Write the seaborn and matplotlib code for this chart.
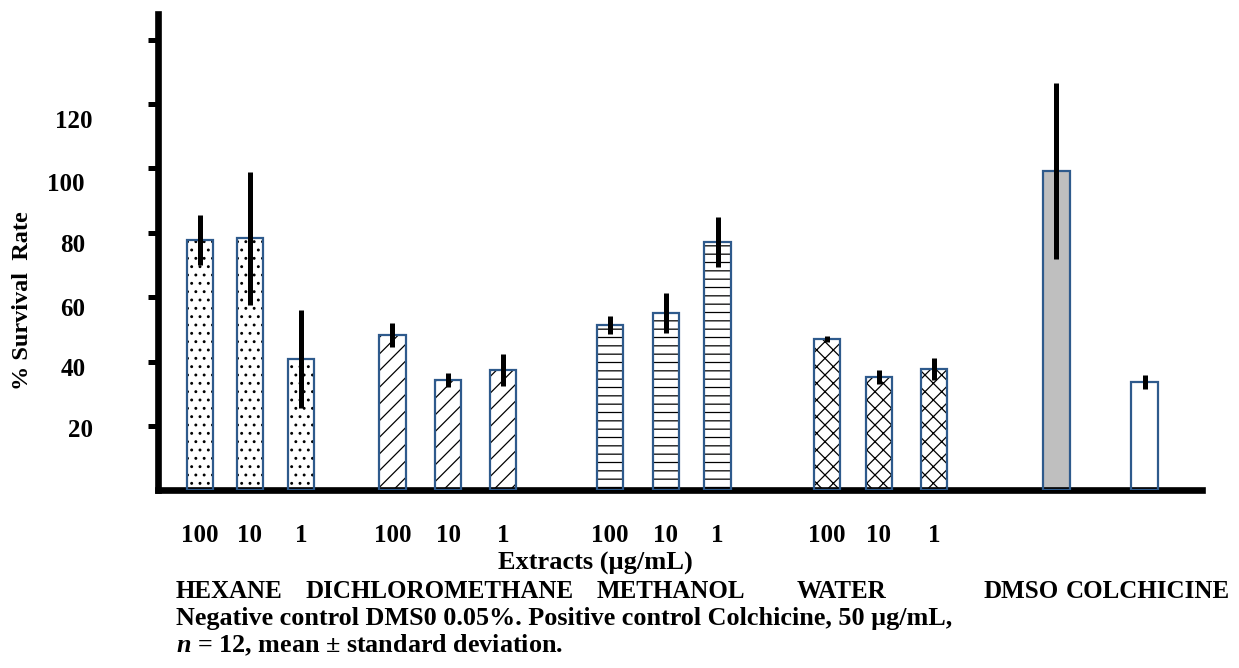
import matplotlib
matplotlib.use('Agg')
import numpy as np
import pandas as pd
import matplotlib.pyplot as plt
import seaborn as sns
from matplotlib.transforms import ScaledTranslation

# data
extracts = ['HEXANE', 'DICHLOROMETHANE', 'METHANOL', 'WATER']
concentrations = ['100', '10', '1']
controls = ['DMSO', 'COLCHICINE']
survival_mean = [77.7, 78.3, 40.8, 48.3, 34.3, 37.3, 51.4, 55.1, 77.1,
                 47.1, 35.2, 37.7, 99.2, 33.6]
survival_sd = [7.8, 20.6, 15.3, 3.8, 2.2, 4.9, 2.9, 6.3, 7.8,
               0.9, 2.1, 3.4, 27.3, 2.1]
y_ticks = [20, 40, 60, 80, 100, 120, 140]
y_ticklabels = ['20', '40', '60', '80', '100', '120', '']

# layout: bar slots along an x axis that runs 0-20
bar_pos = [0.80, 1.76, 2.74, 4.49, 5.56, 6.61, 8.66, 9.73, 10.72,
           12.82, 13.81, 14.87, 17.21, 18.90]
hatches = ['..'] * 3 + ['//'] * 3 + ['--'] * 3 + ['xx'] * 3 + ['', '']
faces = ['white'] * 12 + ['#BFBFBF', 'white']
edge_blue = '#2E5A8C'

names = [f'{e} {c}' for e in extracts for c in concentrations] + controls
df = pd.DataFrame({'bar': names, 'pos': bar_pos,
                   'survival': survival_mean, 'sd': survival_sd})

sns.set_style('white')
plt.rcParams['font.family'] = ['Liberation Serif', 'DejaVu Serif']
plt.rcParams['font.weight'] = 'bold'
plt.rcParams['text.color'] = 'black'
plt.rcParams['axes.labelcolor'] = 'black'
plt.rcParams['mathtext.fontset'] = 'custom'
plt.rcParams['mathtext.it'] = 'Liberation Serif:italic:bold'
plt.rcParams['mathtext.rm'] = 'Liberation Serif:bold'
plt.rcParams['hatch.linewidth'] = 0.9

W, H = 1239, 668
fig = plt.figure(figsize=(W / 100, H / 100), dpi=100)
ax = fig.add_axes([158 / W, 1 - 490.25 / H, 1044 / W, 476.25 / H])

bar_w = 0.508
width = bar_w / np.min(np.diff(bar_pos))

# layer 1: fill + hatch, layer 2: blue outline
sns.barplot(data=df, x='pos', y='survival', native_scale=True, orient='x',
            width=width, errorbar=None, color='white', ax=ax)
n = len(df)
for p, fc, h in zip(ax.patches[:n], faces, hatches):
    p.set_facecolor(fc)
    p.set_edgecolor('black')
    p.set_hatch(h)
    p.set_linewidth(0)
sns.barplot(data=df, x='pos', y='survival', native_scale=True, orient='x',
            width=width, errorbar=None, color='white', ax=ax)
for p in ax.patches[n:]:
    p.set_facecolor('none')
    p.set_edgecolor(edge_blue)
    p.set_linewidth(1.6)
    p.set_zorder(3)

ax.errorbar(df['pos'], df['survival'], yerr=df['sd'], fmt='none',
            ecolor='black', elinewidth=3.6, capsize=0, zorder=5)

ax.set_xlim(0, 20)
ax.set_ylim(0, 148)
for s in ['top', 'right']:
    ax.spines[s].set_visible(False)
for s in ['left', 'bottom']:
    ax.spines[s].set_linewidth(4.8)
    ax.spines[s].set_color('black')

ax.set_yticks(y_ticks, y_ticklabels)
ax.tick_params(axis='y', left=True, length=7, width=3.6, direction='out',
               pad=43, labelsize=18, colors='black')
# the reference labels sit a little off their ticks
shifts = [(4, 2), (-3, 5), (-3, 10), (-3, 10), (-4, 14), (4, 15), (0, 0)]
for lbl, (dx, dy) in zip(ax.get_yticklabels(), shifts):
    lbl.set_transform(lbl.get_transform() +
                      ScaledTranslation(dx / 100, -dy / 100, fig.dpi_scale_trans))

ax.set_xticks(bar_pos[:12], concentrations * len(extracts))
ax.tick_params(axis='x', bottom=False, length=0, pad=24, labelsize=18,
               colors='black')

ax.set_ylabel('% Survival  Rate', fontsize=17.5, fontweight='bold')
ax.yaxis.set_label_coords((23 - 158) / 1044, (490.25 - 301) / 476.25)
ax.yaxis.label.set_va('center')
ax.set_xlabel('Extracts (\u00b5g/mL)', fontsize=19, fontweight='bold')
ax.xaxis.set_label_coords((595 - 158) / 1044, (490.25 - 563) / 476.25)
ax.xaxis.label.set_va('center')

name_x = [176, 305, 597, 797, 984, 1066]
for txt, x in zip(extracts + controls, name_x):
    fig.text(x / W, 1 - 592 / H, txt, fontsize=18, fontweight='bold',
             ha='left', va='center')
fig.text(176 / W, 1 - 618 / H,
         'Negative control DMS0 0.05%. Positive control Colchicine, 50 \u00b5g/mL,',
         fontsize=18.8, fontweight='bold', ha='left', va='center')
fig.text(176 / W, 1 - 645 / H, '$n$ = 12, mean \u00b1 standard deviation.',
         fontsize=18.8, fontweight='bold', ha='left', va='center')

fig.savefig('out.png', dpi=100, facecolor='white')
